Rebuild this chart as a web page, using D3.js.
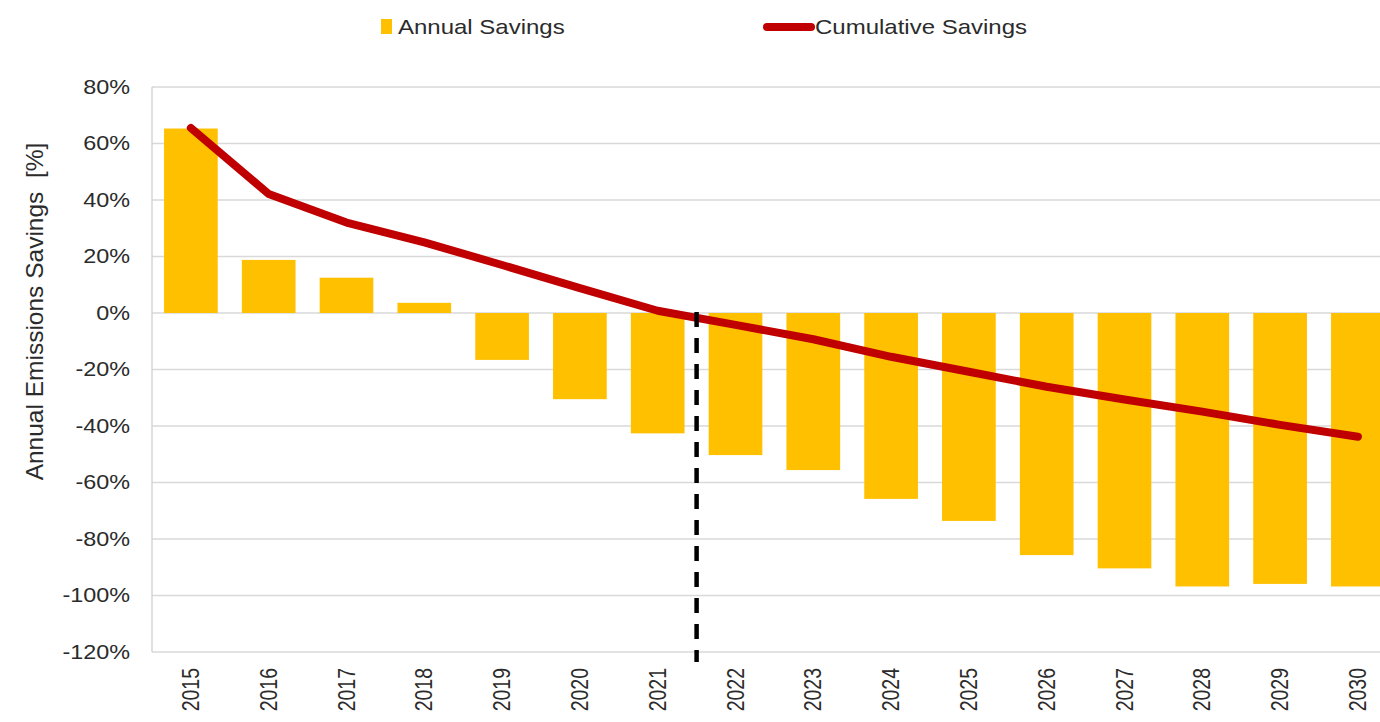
<!DOCTYPE html>
<html>
<head>
<meta charset="utf-8">
<script src="https://cdn.jsdelivr.net/npm/d3@7"></script>
<style>
  html, body { margin: 0; padding: 0; background: #fff; }
  svg { display: block; font-family: "Liberation Sans", Arial, sans-serif; }
</style>
</head>
<body>
<svg id="chart" width="1380" height="722"></svg>
<script>
const years = ["2015","2016","2017","2018","2019","2020","2021","2022","2023","2024","2025","2026","2027","2028","2029","2030"];
const annualSavings = [65.3, 18.8, 12.5, 3.6, -16.6, -30.5, -42.6, -50.3, -55.6, -65.8, -73.6, -85.7, -90.4, -96.8, -95.9, -96.8];
const cumulativeSavings = [65.5, 42.1, 32.0, 25.0, 17.0, 8.8, 0.8, -4.2, -9.3, -15.5, -20.8, -26.1, -30.6, -34.9, -39.6, -43.8];
const yTicks = [80, 60, 40, 20, 0, -20, -40, -60, -80, -100, -120];
const dividerBetween = ["2021", "2022"];

(function () {
const svg = d3.select("#chart");
const mLeft = 152, mTop = 87, mBottom = 652;
const step = 77.8;
const stretch = 1.2;
const textColor = "#2b2b2b";
const x = d3.scaleBand().domain(years).range([mLeft, mLeft + step * years.length]).paddingInner(0.31).paddingOuter(0.155);
const y = d3.scaleLinear().domain([-120, 80]).range([mBottom, mTop]);

// gridlines
svg.append("g").selectAll("line").data(yTicks).join("line")
  .attr("x1", mLeft).attr("x2", 1380)
  .attr("y1", d => y(d)).attr("y2", d => y(d))
  .attr("stroke", "#d9d9d9").attr("stroke-width", 1.3);

// left axis line
svg.append("line").attr("x1", mLeft).attr("x2", mLeft).attr("y1", mTop).attr("y2", mBottom)
  .attr("stroke", "#d0d0d0").attr("stroke-width", 1.3);

// y axis labels
const yAxis = d3.axisLeft(y).tickValues(yTicks).tickFormat(d => d + "%").tickSize(0).tickPadding(0);
const yg = svg.append("g").attr("transform", `translate(130,0)`).call(yAxis);
yg.select(".domain").remove();
yg.selectAll(".tick text")
  .attr("font-size", 19.5).attr("fill", textColor).attr("font-family", "Liberation Sans, Arial, sans-serif")
  .attr("x", 0).attr("text-anchor", "end")
  .attr("transform", `scale(${stretch},1)`);

// x axis labels rotated
const xAxis = d3.axisBottom(x).tickSize(0).tickPadding(0);
const xg = svg.append("g").attr("transform", `translate(0,${mBottom})`).call(xAxis);
xg.select(".domain").remove();
xg.selectAll(".tick text")
  .attr("font-size", 19.5).attr("fill", textColor).attr("font-family", "Liberation Sans, Arial, sans-serif")
  .attr("text-anchor", "end")
  .attr("transform", `scale(${stretch},1) rotate(-90)`)
  .attr("x", -16).attr("y", 0).attr("dy", "0.35em");

// bars
svg.append("g").selectAll("rect").data(years).join("rect")
  .attr("x", d => x(d))
  .attr("width", x.bandwidth())
  .attr("y", (d, i) => y(Math.max(0, annualSavings[i])))
  .attr("height", (d, i) => Math.abs(y(annualSavings[i]) - y(0)))
  .attr("fill", "#ffc000");

// cumulative line
const line = d3.line().x((d, i) => x(years[i]) + x.bandwidth() / 2).y(d => y(d));
svg.append("path").datum(cumulativeSavings)
  .attr("d", line).attr("fill", "none")
  .attr("stroke", "#c00000").attr("stroke-width", 8)
  .attr("stroke-linecap", "round").attr("stroke-linejoin", "round");

// dashed divider
const dx = (x(dividerBetween[0]) + x.bandwidth() + x(dividerBetween[1])) / 2;
svg.append("line").attr("x1", dx).attr("x2", dx).attr("y1", y(0) - 1).attr("y2", mBottom + 10)
  .attr("stroke", "#000").attr("stroke-width", 4.5).attr("stroke-dasharray", "15 11");

// y axis title
svg.append("text")
  .attr("transform", `translate(43,311.5) rotate(-90)`)
  .attr("text-anchor", "middle")
  .attr("font-size", 24.5).attr("fill", textColor)
  .style("white-space", "pre")
  .text("Annual Emissions Savings  [%]");

// legend
const lg = svg.append("g");
lg.append("rect").attr("x", 381).attr("y", 19).attr("width", 11).attr("height", 15).attr("fill", "#ffc000");
lg.append("text").attr("transform", `translate(398,34) scale(${stretch},1)`).attr("font-size", 20).attr("fill", textColor).text("Annual Savings");
lg.append("line").attr("x1", 767).attr("x2", 811).attr("y1", 27).attr("y2", 27)
  .attr("stroke", "#c00000").attr("stroke-width", 8).attr("stroke-linecap", "round");
lg.append("text").attr("transform", `translate(815,34) scale(${stretch},1)`).attr("font-size", 20).attr("fill", textColor).text("Cumulative Savings");
})();
</script>
</body>
</html>
